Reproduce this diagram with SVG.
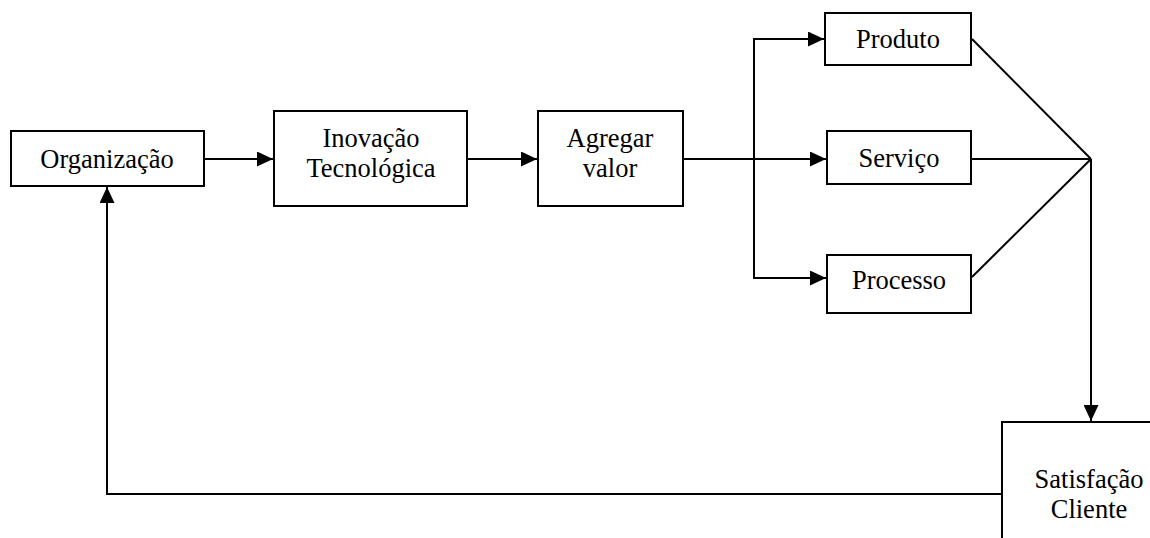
<svg xmlns="http://www.w3.org/2000/svg" width="1150" height="538" viewBox="0 0 1150 538">
  <style>
    .box { fill: #ffffff; stroke: #000000; stroke-width: 2; }
    .lbl { font-family: "Liberation Serif", "Times New Roman", serif; font-size: 26.5px; fill: #000000; text-anchor: middle; }
    .wire { fill: none; stroke: #000000; stroke-width: 2; }
  </style>
  <defs>
    <marker id="arrow" markerUnits="userSpaceOnUse" markerWidth="16" markerHeight="15" refX="16" refY="7.5" orient="auto">
      <path d="M0,0 L16,7.5 L0,15 Z" fill="#000000"/>
    </marker>
  </defs>
  <rect width="1150" height="538" fill="#ffffff"/>

  <!-- connectors -->
  <g id="connectors">
    <line class="wire" x1="204" y1="159" x2="273" y2="159" marker-end="url(#arrow)"/>
    <line class="wire" x1="467" y1="159" x2="537" y2="159" marker-end="url(#arrow)"/>
    <line class="wire" x1="683" y1="159" x2="826" y2="159" marker-end="url(#arrow)"/>
    <polyline class="wire" points="754,159 754,39 824,39" marker-end="url(#arrow)"/>
    <polyline class="wire" points="754,159 754,278 826,278" marker-end="url(#arrow)"/>
    <line class="wire" x1="972" y1="39" x2="1091" y2="159"/>
    <line class="wire" x1="971" y1="159" x2="1091" y2="159"/>
    <line class="wire" x1="972" y1="277" x2="1091" y2="159"/>
    <line class="wire" x1="1091" y1="159" x2="1091" y2="421" marker-end="url(#arrow)"/>
    <polyline class="wire" points="1002,494 107,494 107,187" marker-end="url(#arrow)"/>
  </g>

  <g id="organizacao">
    <rect class="box" x="11" y="131" width="193" height="55"/>
    <text class="lbl" x="107" y="168">Organização</text>
  </g>

  <g id="inovacao">
    <rect class="box" x="274" y="111" width="193" height="95"/>
    <text class="lbl" x="371" y="147">Inovação</text>
    <text class="lbl" x="371" y="177">Tecnológica</text>
  </g>

  <g id="agregar">
    <rect class="box" x="538" y="111" width="145" height="95"/>
    <text class="lbl" x="610" y="147">Agregar</text>
    <text class="lbl" x="610" y="177">valor</text>
  </g>

  <g id="produto">
    <rect class="box" x="825" y="13" width="146" height="52"/>
    <text class="lbl" x="898" y="48">Produto</text>
  </g>

  <g id="servico">
    <rect class="box" x="827" y="131" width="144" height="53"/>
    <text class="lbl" x="899" y="167">Serviço</text>
  </g>

  <g id="processo">
    <rect class="box" x="827" y="255" width="144" height="58"/>
    <text class="lbl" x="899" y="289">Processo</text>
  </g>

  <g id="satisfacao">
    <rect class="box" x="1002" y="422" width="200" height="160"/>
    <text class="lbl" x="1089" y="488">Satisfação</text>
    <text class="lbl" x="1089" y="518">Cliente</text>
  </g>
</svg>
